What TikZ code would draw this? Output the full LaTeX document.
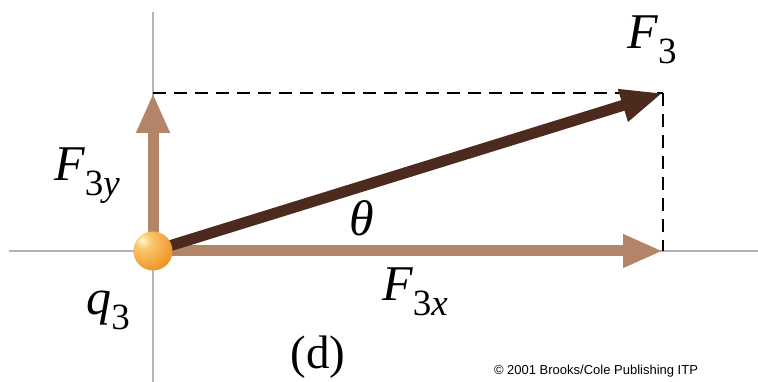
\documentclass[tikz,border=0pt]{standalone}
\usepackage{fontspec}
\setmainfont{Liberation Serif}
\newfontfamily\cpyfont{Liberation Sans}
\usetikzlibrary{arrows.meta}
\definecolor{axisgray}{RGB}{178,180,188}
\definecolor{tanbrown}{RGB}{178,133,104}
\definecolor{darkbrown}{RGB}{76,42,30}
\definecolor{ballorange}{RGB}{240,150,40}
\definecolor{ballhi}{RGB}{255,245,215}
\definecolor{ballmid}{RGB}{250,200,110}
\definecolor{ballrim}{RGB}{225,130,30}
\pgfdeclareradialshading{orangeball}{\pgfpoint{-14bp}{14bp}}{%
  color(0bp)=(ballhi); color(10bp)=(ballmid); color(35bp)=(ballorange); color(62bp)=(ballrim); color(100bp)=(ballrim)}
\tikzset{
  axisline/.style={draw=axisgray, line width=2.2pt},
  comparrow/.style={draw=tanbrown, line width=11pt, -{Triangle[length=40pt,width=31pt]}},
  resarrow/.style={draw=darkbrown, line width=11pt, -{Triangle[length=42pt,width=31pt]}},
  guide/.style={draw=black, line width=2.6pt, dash pattern=on 13pt off 8pt},
  lbl/.style={inner sep=0pt, font=\fontsize{50}{56}\selectfont},
}
\newcommand{\subl}[1]{\raisebox{-0.3em}{\fontsize{37}{40}\selectfont #1}}
\begin{document}
\begin{tikzpicture}[x=1pt,y=-1pt]
\useasboundingbox (0,0) rectangle (758,382);
\coordinate (O) at (153,251);
\coordinate (AL) at (9,251);
\coordinate (AR) at (758,251);
\coordinate (AT) at (153,12);
\coordinate (AB) at (153,382);
\coordinate (Tx) at (663,251);
\coordinate (Ty) at (153,93);
\coordinate (T3) at (663,93);
\draw[axisline] (AL) -- (AR);
\draw[axisline] (AT) -- (AB);
\draw[guide] (Ty) -- (T3);
\draw[guide] (T3) -- (Tx);
\draw[comparrow] (O) -- (Tx);
\draw[comparrow] (O) -- (Ty);
\draw[resarrow] (O) -- (T3);
\shade[shading=orangeball] (O) circle (19.5);
\node[lbl] (lF3) at (652,40) {\itshape F\subl{\upshape 3}};
\node[lbl] (lF3y) at (87,176) {\itshape F\subl{\upshape 3\itshape y}};
\node[lbl] (lth) at (362,218) {\itshape θ};
\node[lbl] (lq3) at (108,310) {\itshape q\subl{\upshape 3}};
\node[lbl] (lF3x) at (415,292) {\itshape F\subl{\upshape 3\itshape x}};
\node[lbl, font=\fontsize{47}{52}\selectfont] (ld) at (318,357) {(d)};
\node[inner sep=0pt, font=\cpyfont\fontsize{13}{15}\selectfont] (cp) at (596,371) {© 2001 Brooks/Cole Publishing ITP};
\end{tikzpicture}
\end{document}
